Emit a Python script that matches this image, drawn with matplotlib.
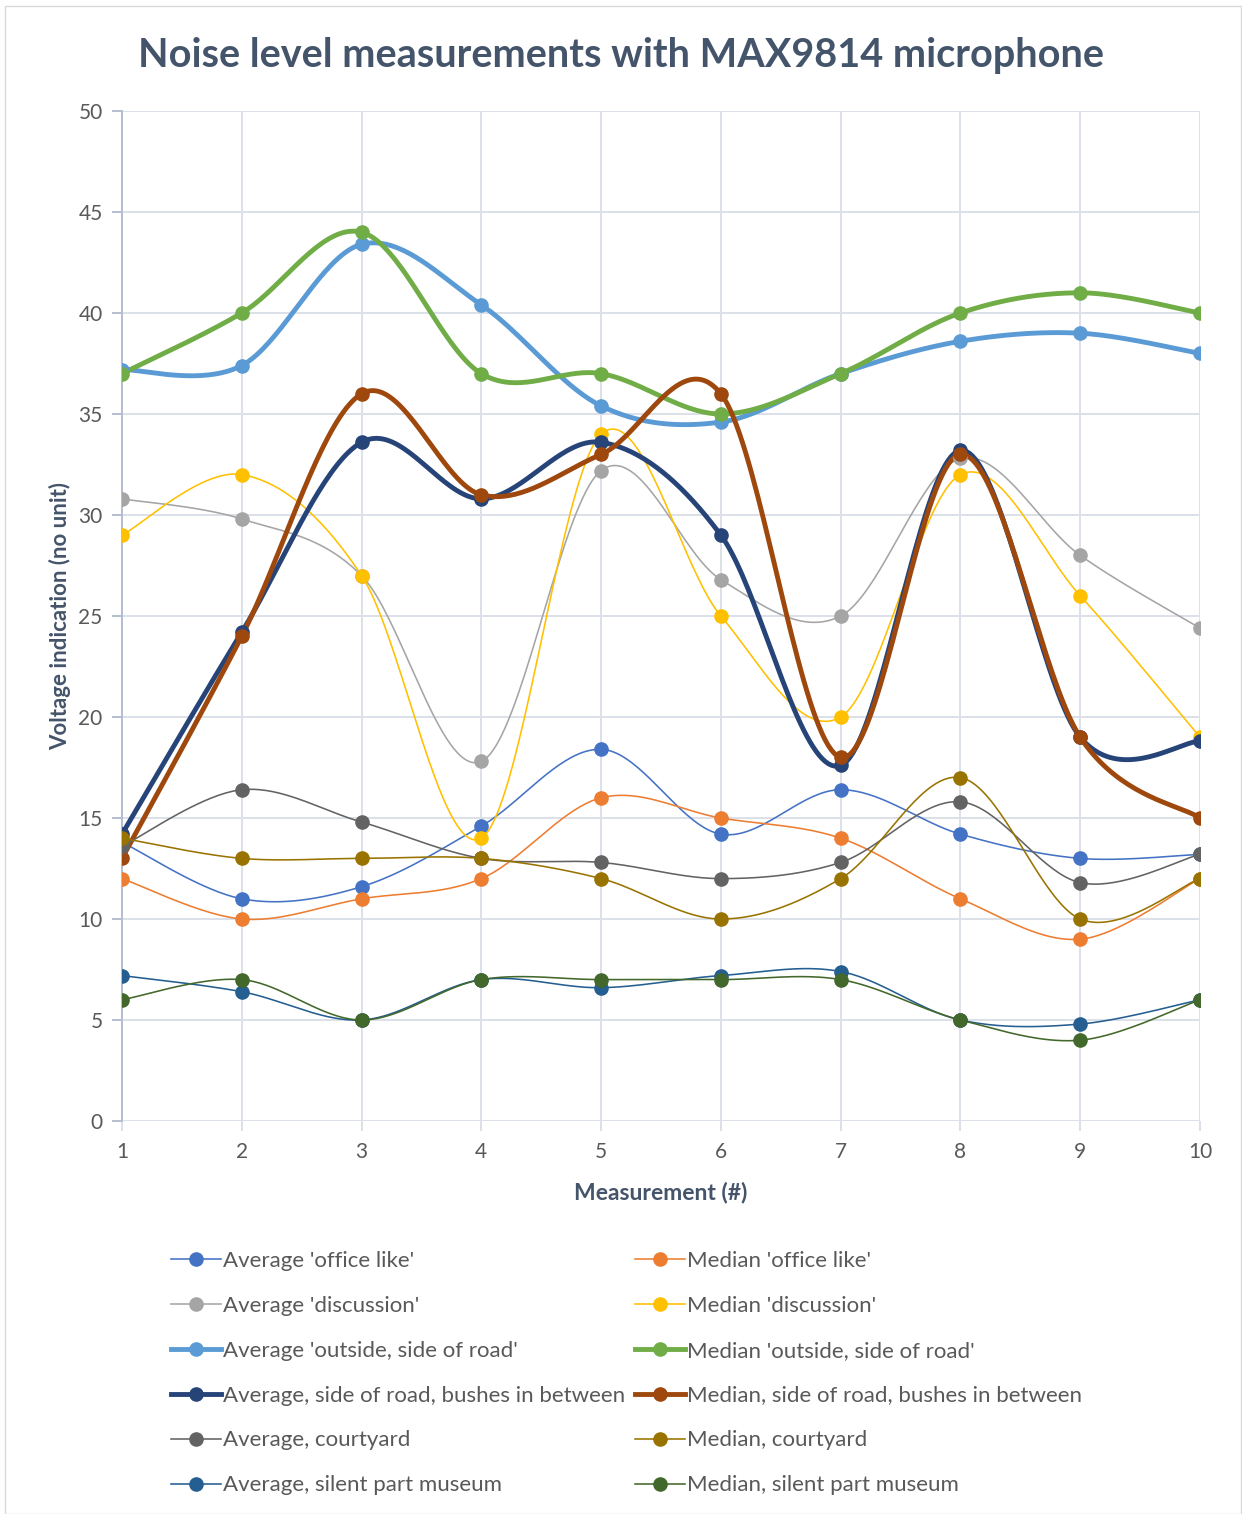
import numpy as np
import matplotlib
matplotlib.use("Agg")
import matplotlib.pyplot as plt
from matplotlib.lines import Line2D
from matplotlib.patches import Rectangle

plt.rcParams['font.family'] = ['Lato', 'DejaVu Sans']

measurements = [1, 2, 3, 4, 5, 6, 7, 8, 9, 10]

avg_office = [13.8, 11.0, 11.6, 14.6, 18.4, 14.2, 16.4, 14.2, 13.0, 13.2]
med_office = [12, 10, 11, 12, 16, 15, 14, 11, 9, 12]
avg_discussion = [30.8, 29.8, 27.0, 17.8, 32.2, 26.8, 25.0, 32.8, 28.0, 24.4]
med_discussion = [29, 32, 27, 14, 34, 25, 20, 32, 26, 19]
avg_outside = [37.2, 37.4, 43.4, 40.4, 35.4, 34.6, 37.0, 38.6, 39.0, 38.0]
med_outside = [37, 40, 44, 37, 37, 35, 37, 40, 41, 40]
avg_bushes = [14.2, 24.2, 33.6, 30.8, 33.6, 29.0, 17.6, 33.2, 19.0, 18.8]
med_bushes = [13, 24, 36, 31, 33, 36, 18, 33, 19, 15]
avg_courtyard = [13.6, 16.4, 14.8, 13.0, 12.8, 12.0, 12.8, 15.8, 11.8, 13.2]
med_courtyard = [14, 13, 13, 13, 12, 10, 12, 17, 10, 12]
avg_museum = [7.2, 6.4, 5.0, 7.0, 6.6, 7.2, 7.4, 5.0, 4.8, 6.0]
med_museum = [6, 7, 5, 7, 7, 7, 7, 5, 4, 6]

series = [
    ("Average 'office like'", avg_office, "#4472C4", False),
    ("Median 'office like'", med_office, "#ED7D31", False),
    ("Average 'discussion'", avg_discussion, "#A5A5A5", False),
    ("Median 'discussion'", med_discussion, "#FFC000", False),
    ("Average 'outside, side of road'", avg_outside, "#5B9BD5", True),
    ("Median 'outside, side of road'", med_outside, "#70AD47", True),
    ("Average, side of road, bushes in between", avg_bushes, "#264478", True),
    ("Median, side of road, bushes in between", med_bushes, "#9E480E", True),
    ("Average, courtyard", avg_courtyard, "#636363", False),
    ("Median, courtyard", med_courtyard, "#997300", False),
    ("Average, silent part museum", avg_museum, "#255E91", False),
    ("Median, silent part museum", med_museum, "#43682B", False),
]


def smooth_curve(xs, ys, steps=40):
    """Cubic Bezier smoothing through every point (Catmull-Rom style control points)."""
    p = np.column_stack([xs, ys]).astype(float)
    n = len(p)
    out = [p[0]]
    t = np.linspace(0, 1, steps)[1:, None]
    for i in range(n - 1):
        p0 = p[i - 1] if i > 0 else p[i]
        p1, p2 = p[i], p[i + 1]
        p3 = p[i + 2] if i + 2 < n else p[i + 1]
        c1 = p1 + (p2 - p0) / 6.0
        c2 = p2 - (p3 - p1) / 6.0
        seg = ((1 - t) ** 3) * p1 + 3 * ((1 - t) ** 2) * t * c1 \
            + 3 * (1 - t) * t ** 2 * c2 + t ** 3 * p2
        out.extend(seg)
    out = np.array(out)
    return out[:, 0], out[:, 1]


W, H = 1242, 1514
fig = plt.figure(figsize=(W / 100, H / 100), dpi=100)
fig.patch.set_facecolor("white")
fig.add_artist(Rectangle((5 / W, 0), 1236 / W, 1 - 6 / H, transform=fig.transFigure,
                         fill=False, edgecolor="#D9D9D9", linewidth=1.0))

ax = fig.add_axes([122 / W, 1 - 1121 / H, (1200 - 122) / W, (1121 - 111) / H])

text_col = "#595959"
title_col = "#44546A"

handles = []
for label, vals, col, thick in series:
    lw = 3.5 if thick else 1.15
    sx, sy = smooth_curve(measurements, vals)
    ax.plot(sx, sy, color=col, linewidth=lw, solid_capstyle="round", zorder=3)
    ax.plot(measurements, vals, linestyle="none", marker="o", markersize=9.5,
            color=col, markeredgecolor=col, zorder=4)
    handles.append(Line2D([0], [0], color=col, linewidth=lw, marker="o",
                          markersize=9.5, markeredgecolor=col, label=label))

ax.set_xlim(1, 10)
ax.set_ylim(0, 50)
ax.set_xticks(measurements)
ax.set_yticks(np.arange(0, 51, 5))
ax.grid(True, color="#DCE0E8", linewidth=1.4, zorder=0)
ax.set_axisbelow(True)
for side in ("top", "right", "bottom"):
    ax.spines[side].set_visible(False)
ax.spines["left"].set_color("#B4BECF")
ax.spines["left"].set_linewidth(1.4)
ax.tick_params(axis="y", length=7, width=1.4, color="#B4BECF", labelcolor=text_col,
               labelsize=15, pad=7)
ax.tick_params(axis="x", length=7, width=1.4, color="#DCE0E8", labelcolor=text_col,
               labelsize=15, pad=8)
ax.set_xlabel("Measurement (#)", fontsize=16.5, fontweight="bold", color=title_col, labelpad=14)
ax.set_ylabel("Voltage indication (no unit)", fontsize=16, fontweight="bold",
              color=title_col, labelpad=5)

fig.text(0.5, 1 - 55 / H, "Noise level measurements with MAX9814 microphone",
         ha="center", va="center", fontsize=28.5, fontweight="bold", color=title_col)

avg_handles = handles[0::2]
med_handles = handles[1::2]
leg = fig.legend(handles=avg_handles + med_handles, ncol=2, loc="upper left",
                 bbox_to_anchor=(162 / W, 1 - 1242 / H), frameon=False,
                 fontsize=16, handlelength=2.25, handletextpad=0.1,
                 columnspacing=0.45, labelspacing=1.12, borderaxespad=0)
for t in leg.get_texts():
    t.set_color(text_col)

fig.savefig("out.png", dpi=100, facecolor="white")
